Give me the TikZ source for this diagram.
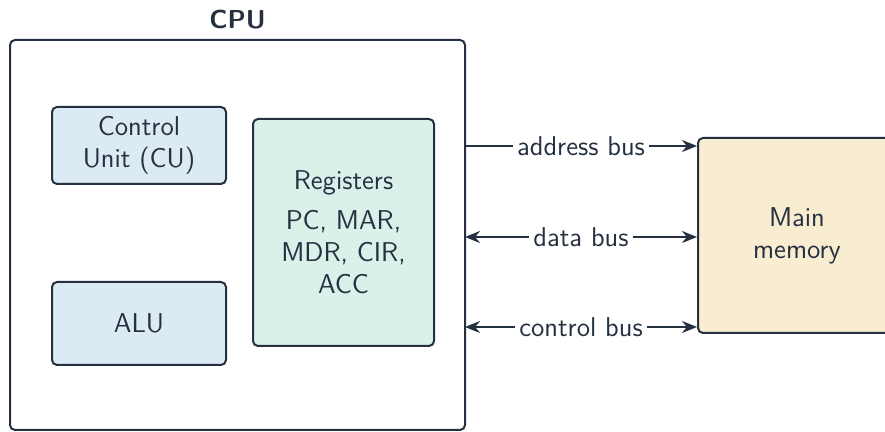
\documentclass[tikz,border=0pt]{standalone}
\usetikzlibrary{arrows.meta}
\renewcommand{\familydefault}{\sfdefault}
\definecolor{ink}{HTML}{253040}
\definecolor{cufill}{HTML}{DCEAF3}
\definecolor{regfill}{HTML}{DAF1EA}
\definecolor{memfill}{HTML}{F9EDD1}
\tikzset{
  box/.style={draw=ink, line width=1pt, rounded corners=2.5pt, align=center,
    text=ink, inner sep=0pt, font=\fontsize{13.6}{16}\selectfont},
  bus/.style={draw=ink, line width=1.1pt, -{Stealth[length=7.5pt,width=6pt]}},
  busboth/.style={bus, {Stealth[length=7.5pt,width=6pt]}-{Stealth[length=7.5pt,width=6pt]}},
  buslabel/.style={fill=white, text=ink, inner sep=2pt, font=\fontsize{13.6}{16}\selectfont}
}
\begin{document}
\begin{tikzpicture}[x=0.5pt,y=-0.5pt]
\useasboundingbox (0,0) rectangle (885,432);

\node[box, minimum width=227.5pt, minimum height=195pt] (cpu) at (237.5,235) {};
\node[text=ink, font=\fontsize{13}{16}\selectfont\bfseries] (cputitle) at (237.5,20) {CPU};

\node[box, fill=cufill, minimum width=87pt, minimum height=38.5pt] (cu) at (139,145.5) {Control\\Unit (CU)};
\node[box, fill=cufill, minimum width=87pt, minimum height=41.5pt] (alu) at (139,323.5) {ALU};
\node[box, fill=regfill, minimum width=90.5pt, minimum height=113.5pt] (reg) at (343.5,232.5)
  {Registers\\[4pt]PC, MAR,\\MDR, CIR,\\ACC};

\node[box, fill=memfill, minimum width=99pt, minimum height=97.5pt] (mem) at (797,235.5) {Main\\memory};

\coordinate (addr) at (465,146);
\coordinate (data) at (465,237);
\coordinate (ctrl) at (465,327);

\draw[bus] (addr) -- (addr -| mem.west) node[midway, buslabel] {address bus};
\draw[busboth] (data) -- (data -| mem.west) node[midway, buslabel] {data bus};
\draw[busboth] (ctrl) -- (ctrl -| mem.west) node[midway, buslabel] {control bus};

\end{tikzpicture}
\end{document}
